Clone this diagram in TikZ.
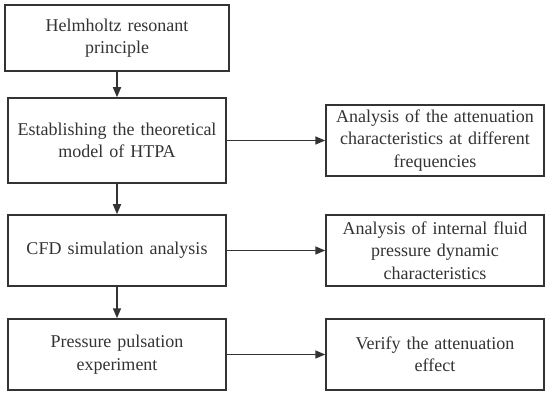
\documentclass[tikz,border=0pt]{standalone}
\usepackage{fontspec}
\setmainfont{Liberation Serif}
\usetikzlibrary{arrows.meta}
\definecolor{ink}{HTML}{333333}
\begin{document}
\begin{tikzpicture}[x=1pt,y=1pt,
  box/.style={draw=ink,line width=1.5pt,align=center,text=ink,inner sep=0pt,
    font=\fontsize{18}{22.5}\selectfont,text width=214pt},
  conn/.style={draw=ink,line width=1.5pt,-{Triangle[length=10pt,width=8pt]}}]
\useasboundingbox (0,0) rectangle (550,-396);
\node[box,minimum width=224pt,minimum height=66pt] (b1) at (117,-38) {Helmholtz resonant\\principle};
\node[box,minimum width=218pt,minimum height=85pt] (b2) at (117,-140.5) {Establishing the theoretical\\model of HTPA};
\node[box,minimum width=218pt,minimum height=71pt] (b3) at (117,-250.5) {CFD simulation analysis};
\node[box,minimum width=218pt,minimum height=71pt] (b4) at (117,-354.5) {Pressure pulsation\\experiment};
\node[box,minimum width=218pt,minimum height=71pt] (r1) at (435,-140.5) {Analysis of the attenuation\\characteristics at different\\frequencies};
\node[box,minimum width=218pt,minimum height=71pt] (r2) at (435,-250.5) {Analysis of internal fluid\\pressure dynamic\\characteristics};
\node[box,minimum width=218pt,minimum height=71pt] (r3) at (435,-354.5) {Verify the attenuation\\effect};
\draw[conn] (b1) -- (b2);
\draw[conn] (b2) -- (b3);
\draw[conn] (b3) -- (b4);
\draw[conn] (b2) -- (r1);
\draw[conn] (b3) -- (r2);
\draw[conn] (b4) -- (r3);
\end{tikzpicture}
\end{document}
